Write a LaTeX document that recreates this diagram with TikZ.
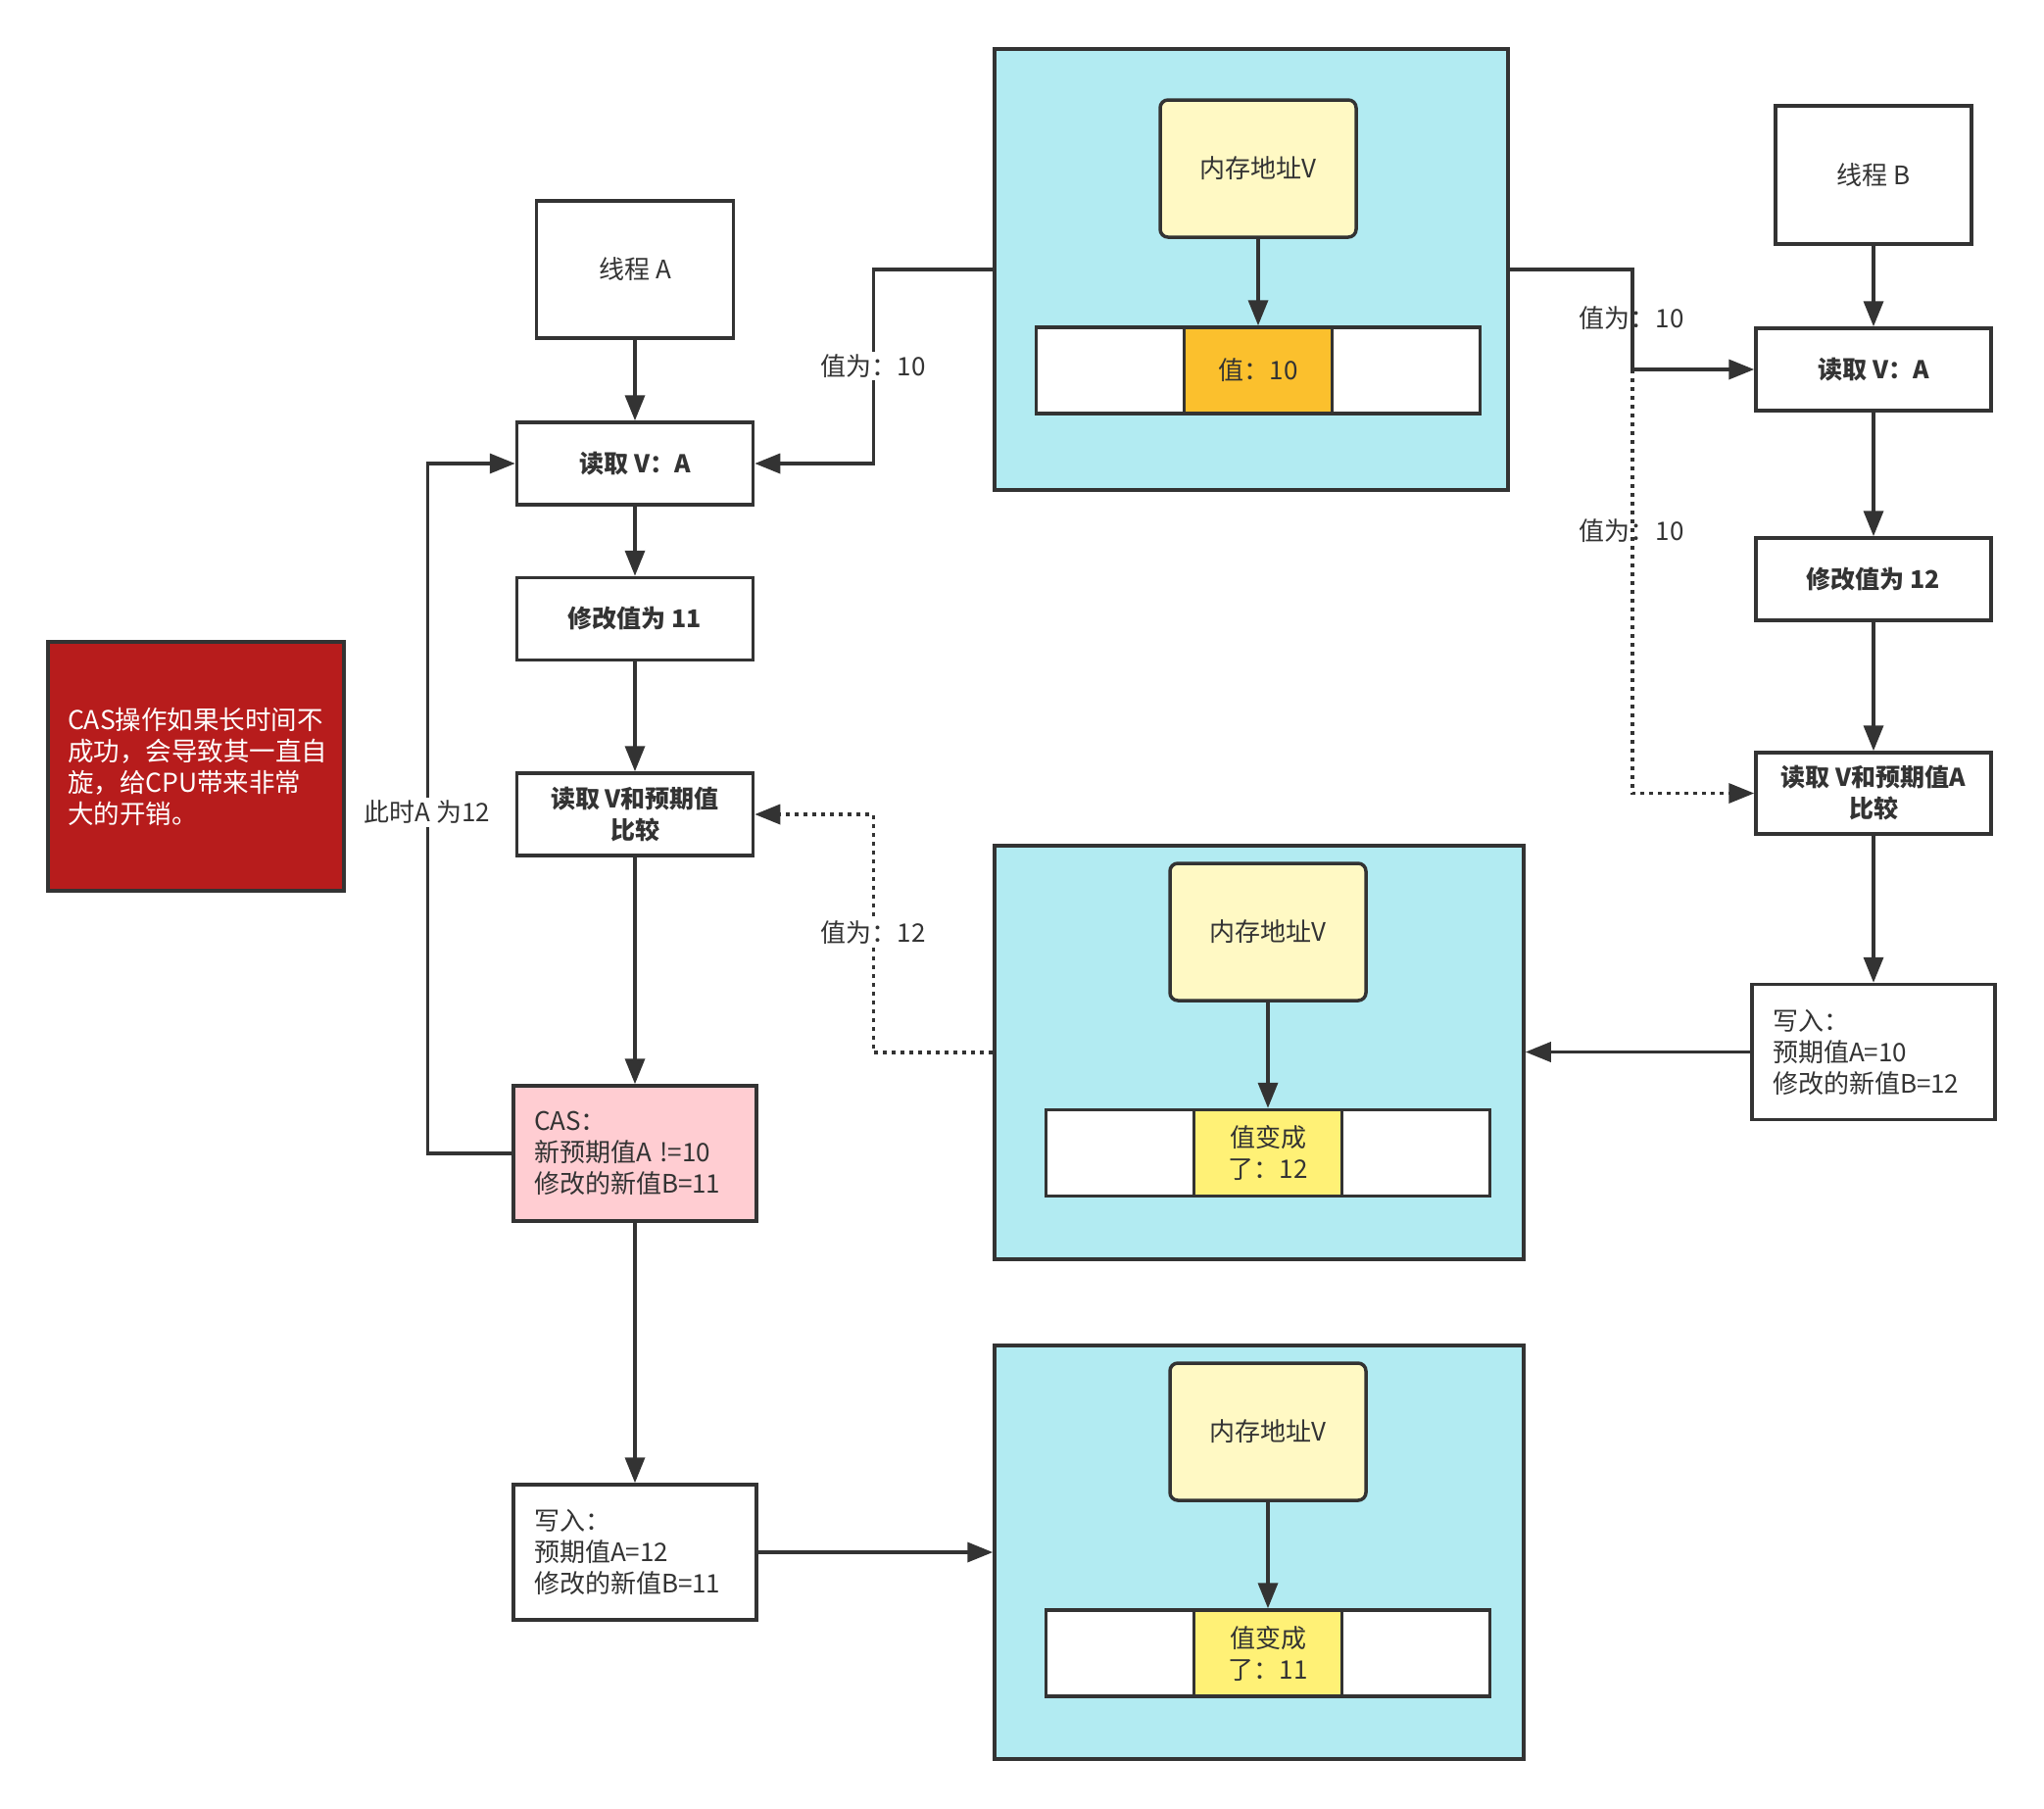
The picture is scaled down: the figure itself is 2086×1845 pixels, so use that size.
\documentclass[tikz,border=0pt]{standalone}
\usepackage{fontspec}
\setmainfont{Noto Sans CJK SC}
\usetikzlibrary{arrows.meta}
\definecolor{ln}{HTML}{333333}
\definecolor{cyanbg}{HTML}{B2EBF2}
\definecolor{ybox}{HTML}{FFF9C4}
\definecolor{ocell}{HTML}{FBC02D}
\definecolor{ycell}{HTML}{FFF176}
\definecolor{pinkbg}{HTML}{FFCDD2}
\definecolor{redbg}{HTML}{B71C1C}
\begin{document}
\begin{tikzpicture}[x=1pt,y=-1pt,
  every node/.style={font=\fontsize{26}{32}\selectfont, text=ln},
  box/.style={draw=ln, line width=3.5pt, fill=white, inner sep=0pt, align=center},
  bbox/.style={box, font=\fontsize{25}{32}\selectfont\bfseries},
  wbox/.style={box, align=left, text width=206pt, inner xsep=21pt, minimum height=138pt},
  panel/.style={draw=ln, line width=3.5pt, fill=cyanbg, inner sep=0pt},
  mem/.style={draw=ln, line width=3.5pt, fill=ybox, rounded corners=8pt, minimum width=200pt, minimum height=140pt, inner sep=0pt},
  cell/.style={box, minimum width=151pt, minimum height=88pt},
  arr/.style={draw=ln, line width=3.5pt, -{Triangle[length=26pt,width=20pt]}},
  dotarr/.style={arr, dash pattern=on 4pt off 5pt},
  lbl/.style={font=\fontsize{26}{30}\selectfont, inner sep=3pt},
  wlbl/.style={lbl, fill=white}]
\useasboundingbox (0,0) rectangle (2086,1845);

% memory panels
\node[panel, minimum width=524pt, minimum height=450pt] (p1) at (1277,275) {};
\node[mem] (y1) at (1284,172) {内存地址V};
\node[cell] (c1l) at (1133,378) {};
\node[cell, fill=ocell] (c1m) at (1284,378) {值：10};
\node[cell] (c1r) at (1435,378) {};

\node[panel, minimum width=540pt, minimum height=422pt] (p2) at (1285,1074) {};
\node[mem] (y2) at (1294,951) {内存地址V};
\node[cell] (c2l) at (1143,1176.5) {};
\node[cell, fill=ycell] (c2m) at (1294,1176.5) {值变成\\了：12};
\node[cell] (c2r) at (1445,1176.5) {};

\node[panel, minimum width=540pt, minimum height=422pt] (p3) at (1285,1584) {};
\node[mem] (y3) at (1294,1461) {内存地址V};
\node[cell] (c3l) at (1143,1687) {};
\node[cell, fill=ycell] (c3m) at (1294,1687) {值变成\\了：11};
\node[cell] (c3r) at (1445,1687) {};

% thread A column
\node[box, minimum width=201pt, minimum height=140pt] (tA) at (648,275) {线程 A};
\node[bbox, minimum width=241pt, minimum height=84pt] (aR) at (648,473) {读取 V：A};
\node[bbox, minimum width=241pt, minimum height=84pt] (aM) at (648,631.5) {修改值为 11};
\node[bbox, minimum width=241pt, minimum height=84pt] (aC) at (648,831) {读取 V和预期值\\比较};
\node[wbox, fill=pinkbg] (aCAS) at (648,1177) {CAS：\\新预期值A !=10\\修改的新值B=11};
\node[wbox] (aW) at (648,1584) {写入：\\预期值A=12\\修改的新值B=11};

% note
\node[draw=ln, line width=3.5pt, fill=redbg, text=white, minimum width=302pt, minimum height=254pt,
  align=left, text width=262pt, inner xsep=20pt, inner ysep=0pt, font=\fontsize{26.5}{32}\selectfont] (note) at (200,782)
  {CAS操作如果长时间不\\成功，会导致其一直自\\旋，给CPU带来非常\\大的开销。};

% thread B column
\node[box, minimum width=200pt, minimum height=141pt] (tB) at (1912,178.5) {线程 B};
\node[bbox, minimum width=240pt, minimum height=84pt] (bR) at (1912,377) {读取 V：A};
\node[bbox, minimum width=240pt, minimum height=84pt] (bM) at (1912,591) {修改值为 12};
\node[bbox, minimum width=240pt, minimum height=83pt] (bC) at (1912,809.5) {读取 V和预期值A\\比较};
\node[wbox] (bW) at (1912,1073.5) {写入：\\预期值A=10\\修改的新值B=12};

% connectors
\draw[arr] (y1) -- (c1m);
\draw[arr] (y2) -- (c2m);
\draw[arr] (y3) -- (c3m);

\draw[arr] (tA) -- (aR);
\draw[arr] (aR) -- (aM);
\draw[arr] (aM) -- (aC);
\draw[arr] (aC) -- (aCAS);
\draw[arr] (aCAS) -- (aW);

\draw[arr] (tB) -- (bR);
\draw[arr] (bR) -- (bM);
\draw[arr] (bM) -- (bC);
\draw[arr] (bC) -- (bW);

\draw[arr] (p1.west) -- ++(-122,0) |- (aR.east);
\draw[arr] (p1.east) -- ++(125,0) coordinate (jx) |- (bR.west);
\coordinate (jB) at (jx |- bR.west);
\draw[dotarr] (jB) |- (bC.west);
\draw[arr] (bW.west) -- (bW.west -| p2.east);
\draw[dotarr] (p2.west) -- ++(-122,0) |- (aC.east);
\draw[arr] (aCAS.west) -- ++(-86,0) |- (aR.west);
\draw[arr] (aW.east) -- (p3.west);

% labels
\node[wlbl] (l1) at (891,373.5) {值为：10};
\node[lbl] (l2) at (1665,325) {值为：10};
\node[lbl] (l3) at (1665,542) {值为：10};
\node[wlbl] (l4) at (891,952) {值为：12};
\node[wlbl] (l5) at (436,829) {此时A 为12};
\end{tikzpicture}
\end{document}
